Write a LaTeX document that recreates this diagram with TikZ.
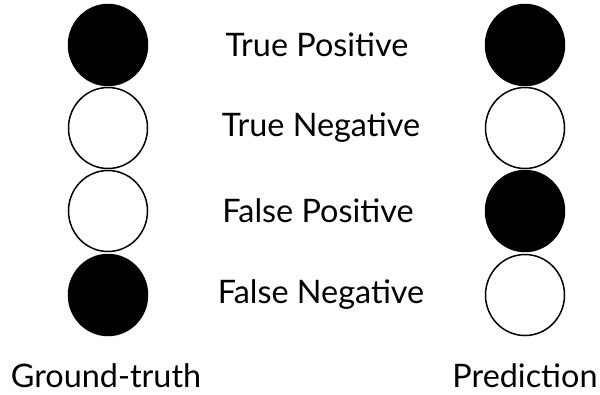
\documentclass[tikz,border=0pt]{standalone}
\usepackage{fontspec}
\setmainfont{Lato}
\usetikzlibrary{shapes.geometric}
\begin{document}
\begin{tikzpicture}[x=1bp,y=-1bp,
  dot/.style={ellipse,minimum width=79bp,minimum height=81bp,inner sep=0pt,line width=1.5bp,draw=black},
  full/.style={dot,fill=black},
  empty/.style={dot,fill=white},
  lbl/.style={font=\fontsize{32.5}{36}\selectfont,inner sep=0pt}]
\useasboundingbox (0,0) rectangle (600,394);
\node[full]  (g1) at (108,45) {};
\node[empty] (g2) at (108,128) {};
\node[empty] (g3) at (108,211) {};
\node[full]  (g4) at (108,295) {};
\node[full]  (p1) at (525,45) {};
\node[empty] (p2) at (525,128) {};
\node[full]  (p3) at (525,211) {};
\node[empty] (p4) at (525,295) {};
\node[lbl] (t1) at (317,45) {True Positive};
\node[lbl] (t2) at (321,128) {True Negative};
\node[lbl] (t3) at (318,211) {False Positive};
\node[lbl] (t4) at (321,295) {False Negative};
\node[lbl,anchor=base] (gt) at (106,387) {Ground-truth};
\node[lbl,anchor=base] (pr) at (525,387) {Prediction};
\end{tikzpicture}
\end{document}
